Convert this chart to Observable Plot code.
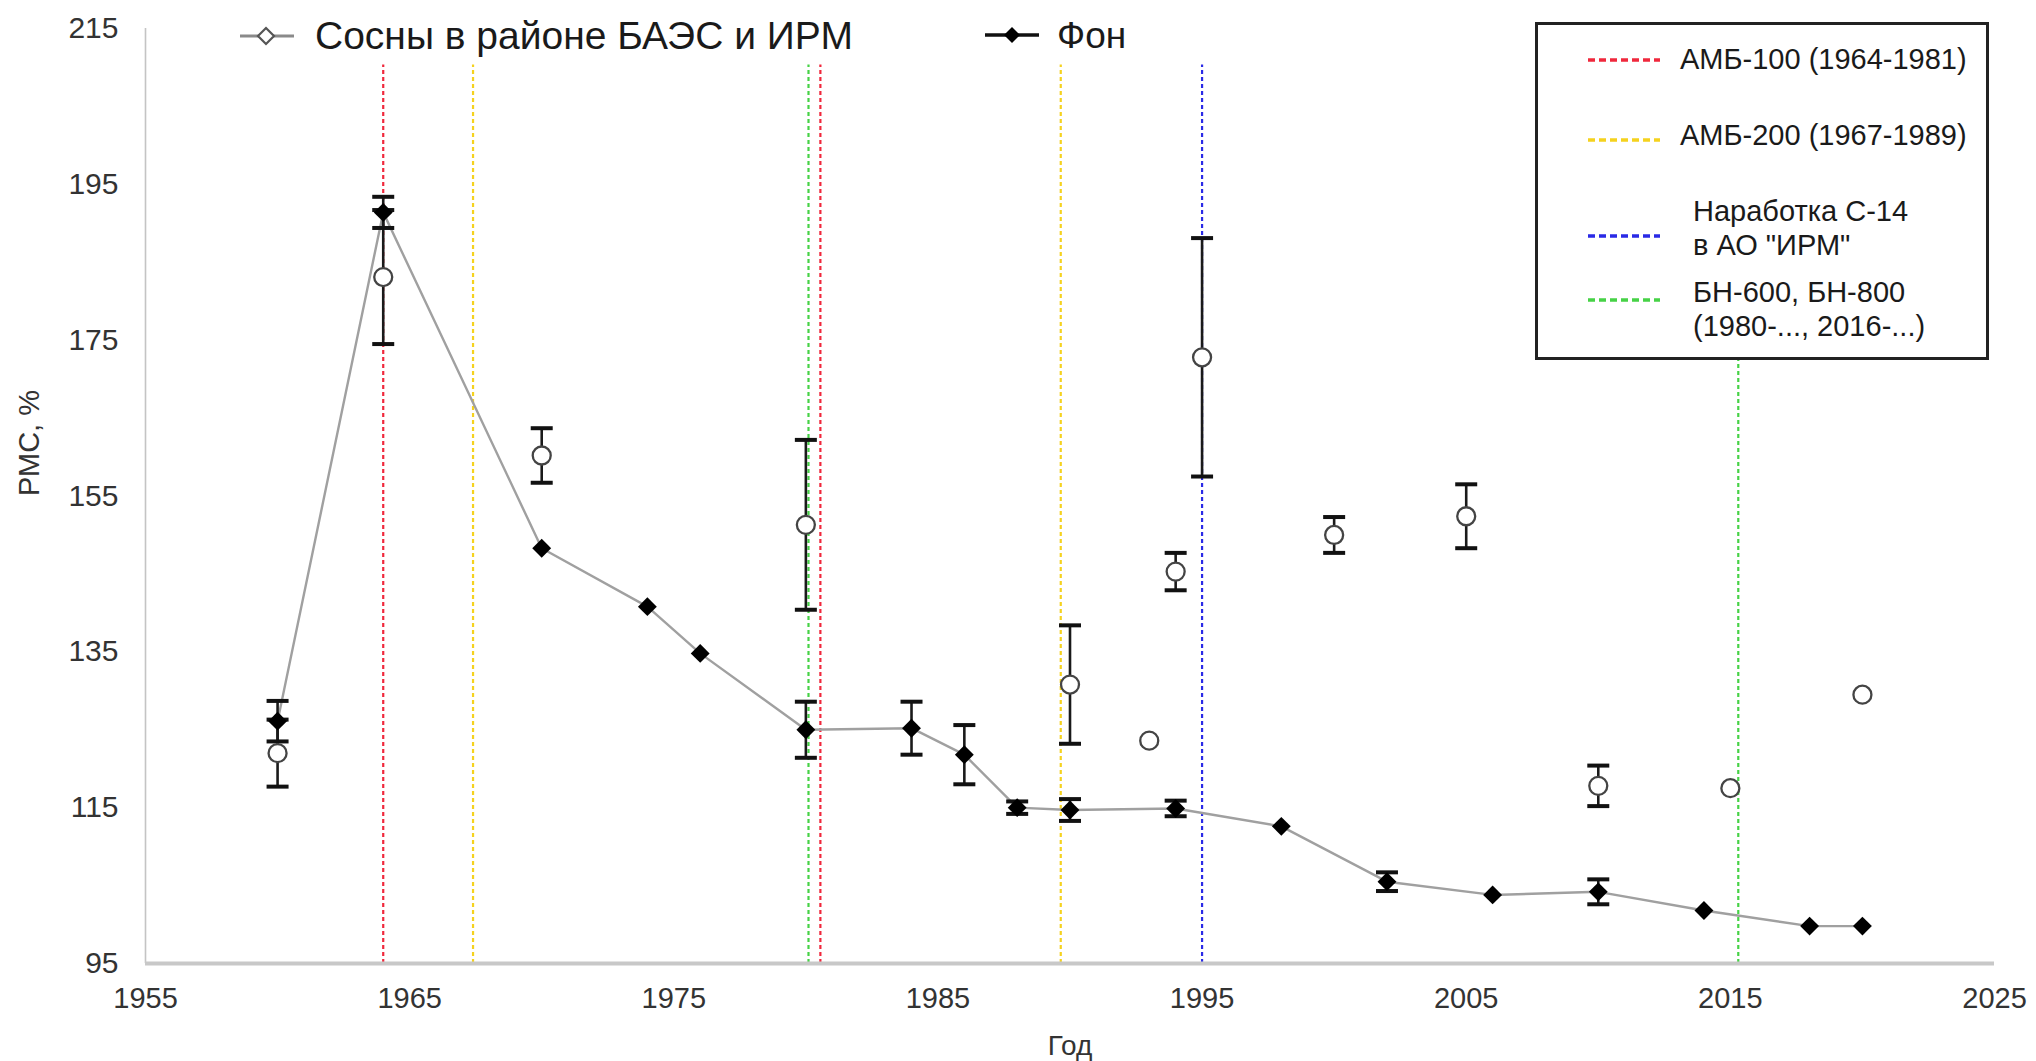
<!DOCTYPE html>
<html>
<head>
<meta charset="utf-8">
<script src="https://cdn.jsdelivr.net/npm/d3@7"></script>
<script src="https://cdn.jsdelivr.net/npm/@observablehq/plot@0.6"></script>
<style>
  html, body { margin: 0; padding: 0; background: #fff; }
  body { width: 2036px; height: 1061px; position: relative; overflow: hidden;
         font-family: "Liberation Sans", Arial, sans-serif; }
  #chart { position: absolute; left: 0; top: 0; }
  .ov { position: absolute; white-space: nowrap; color: #1a1a1a; }
  #topLegend .txt { line-height: 1; }
  #box { position: absolute; left: 1535px; top: 22px; width: 448px; height: 332px;
         border: 3px solid #222; background: #fff; }
  #box .txt { position: absolute; font-size: 29px; line-height: 34px; color: #1a1a1a; white-space: nowrap; }
  #box svg { position: absolute; }
</style>
</head>
<body>
<div id="chart"></div>
<div id="topLegend"></div>
<div id="box"></div>
<script>
// ---- data ----
const bgYears  = [1960, 1964, 1970, 1974, 1976, 1980, 1984, 1986, 1988, 1990, 1994, 1998, 2002, 2006, 2010, 2014, 2018, 2020];
const bgValues = [126.1, 191.4, 148.3, 140.8, 134.8, 125.0, 125.2, 121.8, 115.0, 114.7, 114.9, 112.6, 105.5, 103.8, 104.2, 101.8, 99.8, 99.8];
const bgErr    = [2.6, 2.0, 0, 0, 0, 3.6, 3.4, 3.8, 0.8, 1.4, 1.0, 0, 1.2, 0, 1.6, 0, 0, 0];

const pineYears  = [1960, 1964, 1970, 1980, 1990, 1993, 1994, 1995, 2000, 2005, 2010, 2015, 2020];
const pineValues = [122.0, 183.1, 160.2, 151.3, 130.8, 123.6, 145.3, 172.8, 150.0, 152.4, 117.8, 117.5, 129.5];
const pineErr    = [4.3, 8.6, 3.5, 10.9, 7.6, 0, 2.4, 15.3, 2.3, 4.1, 2.6, 0, 0];

const ruleYears = [1964, 1967.4, 1980.1, 1980.55, 1989.65, 1995, 2015.3];
const ruleKinds = ["amb100", "amb200", "bn", "amb100", "amb200", "c14", "bn"];

const xTicks = [1955, 1965, 1975, 1985, 1995, 2005, 2015, 2025];
const yTicks = [95, 115, 135, 155, 175, 195, 215];

const seriesNames = ["Сосны в районе БАЭС и ИРМ", "Фон"];
const legendKinds = ["amb100", "amb200", "c14", "bn"];
const legendLabels = [["АМБ-100 (1964-1981)"], ["АМБ-200 (1967-1989)"], ["Наработка С-14", "в АО \"ИРМ\""], ["БН-600, БН-800", "(1980-..., 2016-...)"]];
const axisLabels = {x: "Год", y: "РМС, %"};

// ---- styles ----
const kindColor = {amb100: "#f0283c", amb200: "#f5d21e", c14: "#2a2ae6", bn: "#46d246"};
const font = "\"Liberation Sans\", Arial, sans-serif";

const bg = bgYears.map((x, i) => ({x, v: bgValues[i], e: bgErr[i]}));
const pine = pineYears.map((x, i) => ({x, v: pineValues[i], e: pineErr[i]}));
const rules = ruleYears.map((x, i) => ({x, kind: ruleKinds[i]}));
const errs = [...pine, ...bg].filter(d => d.e > 0);

const capSymbol = {
  draw(ctx, size) {
    const w = Math.sqrt(size / Math.PI);
    ctx.moveTo(-w, 0);
    ctx.lineTo(w, 0);
  }
};

const ruleMarks = Object.keys(kindColor).map(k =>
  Plot.ruleX(rules.filter(d => d.kind === k), {
    x: "x", y1: () => 95, y2: () => 210.3,
    stroke: kindColor[k], strokeWidth: 2.2, strokeDasharray: "4,3"
  })
);

const chart = Plot.plot({
  width: 2036,
  height: 1061,
  marginLeft: 145,
  marginRight: 42,
  marginTop: 28,
  marginBottom: 98,
  x: {domain: [1955, 2025]},
  y: {domain: [95, 215]},
  style: {fontFamily: font, fontSize: "29px", color: "#333", background: "white"},
  marks: [
    ...ruleMarks,
    Plot.ruleX([1955], {y1: () => 95, y2: () => 215, stroke: "#c4c4c4", strokeWidth: 1.6}),
    Plot.ruleY([95], {x1: () => 1955, x2: () => 2025, stroke: "#c8c8c8", strokeWidth: 4}),
    Plot.axisX({ticks: xTicks, tickSize: 0, tickPadding: 24, tickFormat: d => String(d), label: null, fontSize: 29}),
    Plot.axisY({ticks: yTicks, tickSize: 0, tickPadding: 27, label: null, fontSize: 30}),
    Plot.text([axisLabels.x], {text: d => d, frameAnchor: "bottom", dy: 91, fontSize: 28, fill: "#333"}),
    Plot.text([axisLabels.y], {text: d => d, frameAnchor: "left", dx: -116, rotate: -90, fontSize: 29, fill: "#333"}),
    Plot.line(bg, {x: "x", y: "v", stroke: "#a0a0a0", strokeWidth: 2.4}),
    Plot.ruleX(errs, {x: "x", y1: d => d.v - d.e, y2: d => d.v + d.e, stroke: "#1a1a1a", strokeWidth: 2.6}),
    Plot.dot(errs, {x: "x", y: d => d.v + d.e, symbol: capSymbol, r: 11, fill: "none", stroke: "#111", strokeWidth: 4}),
    Plot.dot(errs, {x: "x", y: d => d.v - d.e, symbol: capSymbol, r: 11, fill: "none", stroke: "#111", strokeWidth: 4}),
    Plot.dot(pine, {x: "x", y: "v", r: 9, fill: "white", stroke: "#444", strokeWidth: 2.3}),
    Plot.dot(bg, {x: "x", y: "v", symbol: "diamond2", r: 8.5, fill: "#000", stroke: "none"})
  ]
});
document.getElementById("chart").appendChild(chart);

// ---- top legend (series) ----
const topLegendEl = document.getElementById("topLegend");
topLegendEl.innerHTML = `
  <svg class="ov" style="left:238px;top:24px" width="58" height="24">
    <line x1="2" y1="12" x2="56" y2="12" stroke="#8a8a8a" stroke-width="3"/>
    <path d="M28,4 L36,12 L28,20 L20,12 Z" fill="#fff" stroke="#555" stroke-width="2.2"/>
  </svg>
  <div class="ov txt" style="left:315px;top:16px;font-size:39px">${seriesNames[0]}</div>
  <svg class="ov" style="left:983px;top:23px" width="58" height="24">
    <line x1="2" y1="12" x2="56" y2="12" stroke="#111" stroke-width="3.5"/>
    <path d="M29,4 L37,12 L29,20 L21,12 Z" fill="#000"/>
  </svg>
  <div class="ov txt" style="left:1057px;top:17px;font-size:37px">${seriesNames[1]}</div>`;

// ---- box legend (reference lines) ----
const boxEl = document.getElementById("box");
const lineY = [35, 115, 211, 275];
const textTop = [17, 93, 169, 250];
let html = "";
legendKinds.forEach((k, i) => {
  html += `<svg style="left:48px;top:${lineY[i] - 4}px" width="76" height="8">
    <line x1="2" y1="4" x2="74" y2="4" stroke="${kindColor[k]}" stroke-width="3.5" stroke-dasharray="7,4"/></svg>`;
  const left = legendLabels[i].length > 1 ? 155 : 142;
  html += `<div class="txt" style="left:${left}px;top:${textTop[i]}px">${legendLabels[i].join("<br>")}</div>`;
});
boxEl.innerHTML = html;
</script>
</body>
</html>
